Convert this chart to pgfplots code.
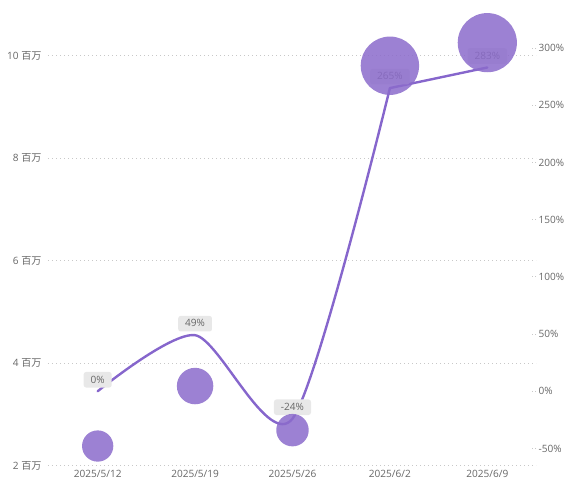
\documentclass[border=0pt]{standalone}
\usepackage{pgfplots}
\pgfplotsset{compat=1.18}
\usepackage{fontspec}
\setmainfont{Open Sans}
\newfontfamily\cjk{Noto Sans CJK SC}
\definecolor{bub}{RGB}{139,107,203}
\definecolor{ln}{RGB}{134,102,204}
\definecolor{tickc}{RGB}{102,102,102}
\definecolor{gridc}{RGB}{200,200,200}
\definecolor{lblbg}{RGB}{232,232,232}
\newcommand{\tf}{\fontsize{10.1}{12}\selectfont}
\begin{document}
\begin{tikzpicture}[x=1bp,y=1bp]
% left axis with grid
\begin{axis}[
  at={(0,0)}, anchor=south west,
  scale only axis, width=488bp, height=450.5bp,
  xmin=-0.51, xmax=4.5, ymin=2, ymax=10.79,
  axis line style={draw=none},
  tick style={draw=none},
  xtick={0,1,2,3,4},
  xticklabels={2025/5/12,2025/5/19,2025/5/26,2025/6/2,2025/6/9},
  ytick={2,4,6,8,10},
  yticklabels={2 {\cjk 百万},4 {\cjk 百万},6 {\cjk 百万},8 {\cjk 百万},10 {\cjk 百万}},
  ymajorgrids,
  grid style={gridc, line width=0.8bp, dash pattern=on 0.8bp off 3.2bp},
  ticklabel style={font=\tf, text=tickc},
  yticklabel style={xshift=-3bp},
  xticklabel style={yshift=-1bp},
]
\addplot[draw=none] coordinates {(0,2)};
\end{axis}
% right axis with line
\begin{axis}[
  at={(0,0)}, anchor=south west,
  scale only axis, width=488bp, height=450.5bp,
  xmin=-0.51, xmax=4.5, ymin=-64.9, ymax=328.9,
  axis y line*=right, hide x axis,
  axis line style={draw=none},
  ytick={-50,0,50,100,150,200,250,300},
  yticklabels={-50\%,0\%,50\%,100\%,150\%,200\%,250\%,300\%},
  major tick length=6bp,
  ytick style={gridc, line width=0.8bp, dash pattern=on 0.8bp off 2.5bp},
  tick align=inside,
  ticklabel style={font=\tf, text=tickc},
  yticklabel style={xshift=-1bp},
  clip=false,
]
\addplot[ln, line width=2.4bp, smooth, tension=0.45, line cap=round, line join=round] table {
x y
0 0
1 49
2 -24
3 265
};
\addplot[ln, line width=2.4bp, line cap=round, line join=round] table {
x y
3 265
4 283
};
\addplot[draw=none,
  point meta=explicit symbolic,
  nodes near coords={\pgfplotspointmeta\%},
  every node near coord/.style={anchor=south, yshift=3.5bp, fill=lblbg, rounded corners=2.5bp,
    text=tickc, font=\tf, inner xsep=7bp, inner ysep=3.5bp, text height=7.6bp, text depth=1bp},
] table[meta=lbl] {
x y lbl
0 0 0
1 49 49
2 -24 -24
3 265 265
4 283 283
};
\end{axis}
% bubbles
\begin{axis}[
  at={(0,0)}, anchor=south west,
  scale only axis, width=488bp, height=450.5bp,
  xmin=-0.51, xmax=4.5, ymin=2, ymax=10.79,
  hide axis, clip=false,
]
\addplot[scatter, only marks, mark=*,
  scatter/use mapped color={draw opacity=0, fill=bub},
  mark options={fill opacity=0.85},
  visualization depends on={\thisrow{r} \as \rad},
  scatter/@pre marker code/.append style={/tikz/mark size=\rad},
] table {
x y r
0 2.38 15.7
1 3.55 18.3
2 2.69 16.3
3 9.80 29.3
4 10.25 29.7
};
\end{axis}
\pgfresetboundingbox
\path[use as bounding box] (-48,-25.5) rectangle (528,465.5);
\end{tikzpicture}
\end{document}
